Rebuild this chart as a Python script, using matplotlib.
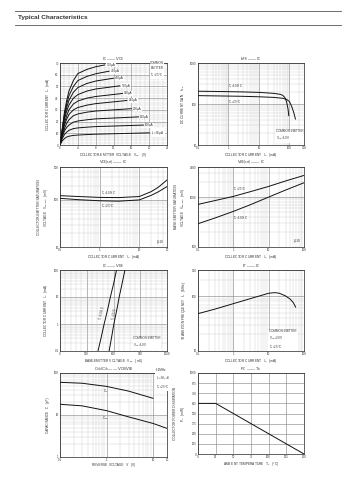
import matplotlib
matplotlib.use('Agg')
import matplotlib.pyplot as plt
import matplotlib.ticker as ticker
from matplotlib.lines import Line2D

plt.rcParams['font.family'] = ['Liberation Sans', 'DejaVu Sans']
plt.rcParams['mathtext.fontset'] = 'custom'
plt.rcParams['mathtext.rm'] = 'Liberation Sans'
plt.rcParams['mathtext.it'] = 'Liberation Sans'
plt.rcParams['mathtext.bf'] = 'Liberation Sans:bold'

TXT = '#333333'
MAJ = '#8c8c8c'
MIN = '#c4c4c4'

# ---------------------------------------------------------------
# data
# ---------------------------------------------------------------
# Ic - Vce output characteristics
out_labels = ['500µA', '450µA', '400µA', '350µA', '300µA',
              '250µA', '200µA', '150µA', '100µA', '$I_B$=50µA']
out_vce = [0, 0.5, 1, 1.5, 2, 3, 4, 6, 8]
out_ic = [
    [0, 14, 28, 38, 46, 55, 61, 64.5, 66.8],
    [0, 13, 26, 35, 42, 50, 55, 58.5, 60.8],
    [0, 12, 24, 32, 38, 45, 49, 52.5, 54.6],
    [0, 11, 22, 29, 34, 40, 43, 46, 47.8],
    [0, 10, 19, 25, 30, 35, 37.5, 40, 41.4],
    [0, 9, 17, 22, 26, 30, 32, 34, 35.3],
    [0, 8, 14, 18.5, 21.5, 25, 26.5, 28, 29],
    [0, 7, 12, 15, 17, 19.5, 20.5, 21.5, 22.3],
    [0, 5.5, 9, 11, 12.5, 14, 14.6, 15.2, 15.7],
    [0, 3.5, 5.5, 6.8, 7.5, 8.2, 8.5, 8.9, 9.2],
]
out_end_vce = [10, 11, 12, 13.4, 14, 15, 16, 17.6, 18.7, 20]
out_end_ic = [68.3, 63, 57, 50.5, 44, 38, 31, 24, 17, 10.4]

# hFE - Ic
hfe_ic100 = [0.1, 0.3, 1, 3, 10, 30, 50, 60, 70, 80, 90, 95]
hfe_100 = [205, 203, 200, 197, 192, 182, 172, 163, 145, 115, 75, 52]
hfe_ic25 = [0.1, 0.3, 1, 3, 10, 30, 60, 80, 100, 120, 140, 157]
hfe_25 = [160, 158, 156, 154, 150, 145, 138, 130, 115, 85, 60, 43]

# Vce(sat) - Ic
sat_ic = [0.1, 0.3, 1, 3, 10, 20, 30, 50]
vcesat_100 = [123, 118, 113, 112, 118, 150, 185, 265]
vcesat_25 = [108, 101, 96, 94, 100, 125, 148, 192]

# Vbe(sat) - Ic
vbe_ic = [0.1, 0.3, 1, 3, 10, 30, 100]
vbesat_25 = [713, 850, 1031, 1280, 1634, 2100, 2712]
vbesat_100 = [293, 380, 517, 700, 1000, 1380, 1935]

# Ic - Vbe
ivb_ic = [0.1, 0.3, 1, 3, 10, 30, 100]
ivb_vbe100 = [426, 460, 495, 530, 565, 600, 634]
ivb_vbe25 = [551, 577, 604, 634, 664, 695, 728]

# fT - Ic
ft_ic = [0.1, 0.3, 1, 3, 10, 15, 20, 30, 40, 50, 58]
ft = [48, 58, 73, 90, 113, 116, 113, 101, 89, 76, 63]

# Cob / Cib - reverse voltage
cib_v = [0.1, 0.3, 1, 3, 10]
cib = [60, 57, 48, 37, 25]
cob_v = [0.1, 0.3, 1, 3, 10, 20]
cob = [18, 16.5, 12.7, 9, 6.3, 4.8]

# Pc - Ta
pd_ta = [0, 25, 150]
pd_pc = [625, 625, 0]

# ---------------------------------------------------------------
W, H = 361, 488
fig = plt.figure(figsize=(W / 100, H / 100), dpi=100)
fig.patch.set_facecolor('white')

# page header
fig.add_artist(Line2D([15 / W, 341 / W], [1 - 11 / H, 1 - 11 / H], color='#555555', lw=0.6))
fig.add_artist(Line2D([15 / W, 341 / W], [1 - 25 / H, 1 - 25 / H], color='#555555', lw=0.6))
fig.text(18 / W, 1 - 18 / H, 'Typical Characteristics', fontsize=4.6, fontweight='bold',
         color='#333333', va='center', ha='left')


def box(x0, y0, x1, y1):
    return fig.add_axes([x0 / W, 1 - y1 / H, (x1 - x0) / W, (y1 - y0) / H])


def style(ax, title, xlabel, ylabel):
    ax.set_title(title, fontsize=3.0, color=TXT, pad=1.0)
    ax.set_xlabel(xlabel, fontsize=2.3, color=TXT, labelpad=0.6)
    ax.set_ylabel(ylabel, fontsize=2.3, color=TXT, labelpad=2.5, linespacing=1.3)
    ax.tick_params(which='both', length=0, labelsize=2.1, labelcolor=TXT, pad=1.0)
    ax.grid(which='major', color=MAJ, lw=0.45)
    ax.grid(which='minor', color=MIN, lw=0.25)
    ax.set_axisbelow(True)
    for s in ax.spines.values():
        s.set_linewidth(0.5)
        s.set_color('#222222')


def logaxis(axis, ticks):
    axis.set_major_locator(ticker.FixedLocator(ticks))
    axis.set_major_formatter(ticker.FixedFormatter([('%g' % t) for t in ticks]))
    axis.set_minor_locator(ticker.LogLocator(base=10, subs=range(2, 10), numticks=20))
    axis.set_minor_formatter(ticker.NullFormatter())


CL = dict(color='#111111', lw=0.7)
FS = 2.2
WB = dict(fc='white', ec='none', pad=0.3)

L0, L1 = 60, 167
R0, R1 = 198, 304

# 1. Ic - Vce
ax = box(L0, 63, L1, 145)
for i in range(len(out_labels)):
    xs = out_vce + [out_end_vce[i]]
    ys = out_ic[i] + [out_end_ic[i]]
    ax.plot(xs, ys, **CL)
    ax.text(out_end_vce[i] + 0.4, out_end_ic[i], out_labels[i], fontsize=FS, color=TXT,
            va='center', ha='left', bbox=WB)
ax.set_xlim(0, 24)
ax.set_ylim(0, 70)
ax.xaxis.set_major_locator(ticker.MultipleLocator(4))
ax.xaxis.set_minor_locator(ticker.MultipleLocator(1))
ax.yaxis.set_major_locator(ticker.MultipleLocator(10))
ax.yaxis.set_minor_locator(ticker.MultipleLocator(2))
ax.text(21.8, 64, 'COMMON\nEMITTER\n$T_a$=25°C', fontsize=FS, color=TXT, ha='center', va='center',
        linespacing=1.3, bbox=WB)
style(ax, '$I_C$ —— $V_{CE}$', 'COLLECTOR-EMITTER VOLTAGE   $V_{CE}$   (V)',
      'COLLECTOR CURRENT   $I_C$   (mA)')

# 2. hFE - Ic
ax = box(R0, 63, R1, 145)
ax.plot(hfe_ic100, hfe_100, **CL)
ax.plot(hfe_ic25, hfe_25, **CL)
ax.set_xscale('log')
ax.set_yscale('log')
ax.set_xlim(0.1, 300)
ax.set_ylim(10, 1000)
logaxis(ax.xaxis, [0.1, 1, 10, 100, 300])
logaxis(ax.yaxis, [10, 100, 1000])
ax.text(1, 225, '$T_a$=100°C', fontsize=FS, color=TXT, ha='left', va='bottom')
ax.text(1, 135, '$T_a$=25°C', fontsize=FS, color=TXT, ha='left', va='top')
ax.text(35, 17, 'COMMON EMITTER\n$V_{CE}$=10V', fontsize=FS, color=TXT, ha='left', va='center',
        linespacing=1.3, bbox=WB)
style(ax, '$h_{FE}$ —— $I_C$', 'COLLECTOR CURRENT   $I_C$   (mA)', 'DC CURRENT GAIN   $h_{FE}$')

# 3. Vce(sat) - Ic
ax = box(L0, 167, L1, 247)
ax.plot(sat_ic, vcesat_100, **CL)
ax.plot(sat_ic, vcesat_25, **CL)
ax.set_xscale('log')
ax.set_yscale('log')
ax.set_xlim(0.1, 50)
ax.set_ylim(10, 500)
logaxis(ax.xaxis, [0.1, 1, 10, 50])
logaxis(ax.yaxis, [10, 100, 500])
ax.text(1.1, 118, '$T_a$=100°C', fontsize=FS, color=TXT, ha='left', va='bottom')
ax.text(1.1, 90, '$T_a$=25°C', fontsize=FS, color=TXT, ha='left', va='top')
ax.text(42, 13, 'β=10', fontsize=FS, color=TXT, ha='right', va='center')
style(ax, '$V_{CE(sat)}$ —— $I_C$', 'COLLECTOR CURRENT   $I_C$   (mA)',
      'COLLECTOR-EMITTER SATURATION\nVOLTAGE   $V_{CE(sat)}$   (mV)')

# 4. Vbe(sat) - Ic
ax = box(R0, 167, R1, 247)
ax.plot(vbe_ic, vbesat_25, **CL)
ax.plot(vbe_ic, vbesat_100, **CL)
ax.set_xscale('log')
ax.set_yscale('log')
ax.set_xlim(0.1, 100)
ax.set_ylim(100, 4000)
logaxis(ax.xaxis, [0.1, 1, 10, 100])
logaxis(ax.yaxis, [100, 1000, 4000])
ax.text(1.0, 1200, '$T_a$=25°C', fontsize=FS, color=TXT, ha='left', va='bottom')
ax.text(1.0, 440, '$T_a$=100°C', fontsize=FS, color=TXT, ha='left', va='top')
ax.text(80, 130, 'β=10', fontsize=FS, color=TXT, ha='right', va='center')
style(ax, '$V_{BE(sat)}$ —— $I_C$', 'COLLECTOR CURRENT   $I_C$   (mA)',
      'BASE-EMITTER SATURATION\nVOLTAGE   $V_{BE(sat)}$   (mV)')

# 5. Ic - Vbe
ax = box(L0, 270, L1, 351)
ax.plot(ivb_vbe100, ivb_ic, **CL)
ax.plot(ivb_vbe25, ivb_ic, **CL)
ax.set_yscale('log')
ax.set_xlim(0, 1200)
ax.set_ylim(0.1, 100)
ax.xaxis.set_major_locator(ticker.MultipleLocator(300))
ax.xaxis.set_minor_locator(ticker.MultipleLocator(60))
logaxis(ax.yaxis, [0.1, 1, 10, 100])
ax.text(470, 2.5, '$T_a$=100°C', fontsize=FS, color=TXT, ha='center', va='center', rotation=76)
ax.text(612, 2.5, '$T_a$=25°C', fontsize=FS, color=TXT, ha='center', va='center', rotation=78)
ax.text(820, 0.2, 'COMMON EMITTER\n$V_{CE}$=10V', fontsize=FS, color=TXT, ha='left', va='center',
        linespacing=1.3, bbox=WB)
style(ax, '$I_C$ —— $V_{BE}$', 'BASE-EMITTER VOLTAGE   $V_{BE}$   (mV)',
      'COLLECTOR CURRENT   $I_C$   (mA)')

# 6. fT - Ic
ax = box(R0, 270, R1, 351)
ax.plot(ft_ic, ft, **CL)
ax.set_xscale('log')
ax.set_yscale('log')
ax.set_xlim(0.1, 100)
ax.set_ylim(10, 300)
logaxis(ax.xaxis, [0.1, 1, 10, 100])
logaxis(ax.yaxis, [10, 100, 300])
ax.text(10, 16, 'COMMON EMITTER\n$V_{CE}$=20V\n$T_a$=25°C', fontsize=FS, color=TXT, ha='left',
        va='center', linespacing=1.3, bbox=WB)
style(ax, '$f_T$ —— $I_C$', 'COLLECTOR CURRENT   $I_C$   (mA)',
      'TRANSITION FREQUENCY   $f_T$   (MHz)')

# 7. Cob/Cib - Vcb/Veb
ax = box(L0, 373, L1, 457)
ax.plot(cib_v, cib, **CL)
ax.plot(cob_v, cob, **CL)
ax.set_xscale('log')
ax.set_yscale('log')
ax.set_xlim(0.1, 20)
ax.set_ylim(1, 100)
logaxis(ax.xaxis, [0.1, 1, 10, 20])
logaxis(ax.yaxis, [1, 10, 100])
ax.text(0.85, 36, '$C_{ib}$', fontsize=FS, color=TXT, ha='left', va='center')
ax.text(0.8, 8.2, '$C_{ob}$', fontsize=FS, color=TXT, ha='left', va='center')
ax.text(11.5, 70, 'f=1MHz\n$I_E$=0/$I_C$=0\n$T_a$=25°C', fontsize=FS, color=TXT, ha='left',
        va='center', linespacing=1.3, bbox=WB)
style(ax, '$C_{ob}$/$C_{ib}$ —— $V_{CB}$/$V_{EB}$', 'REVERSE  VOLTAGE   V   (V)',
      'CAPACITANCE   C   (pF)')

# 8. Pc - Ta
ax = box(R0, 373, R1, 454)
ax.plot(pd_ta, pd_pc, **CL)
ax.set_xlim(0, 150)
ax.set_ylim(0, 1000)
ax.xaxis.set_major_locator(ticker.MultipleLocator(25))
ax.yaxis.set_major_locator(ticker.MultipleLocator(125))
style(ax, '$P_C$ —— $T_a$', 'AMBIENT TEMPERATURE   $T_a$   (°C)',
      'COLLECTOR POWER DISSIPATION\n$P_C$   (mW)')
ax.grid(which='minor', visible=False)

fig.savefig('out.png', dpi=100)
